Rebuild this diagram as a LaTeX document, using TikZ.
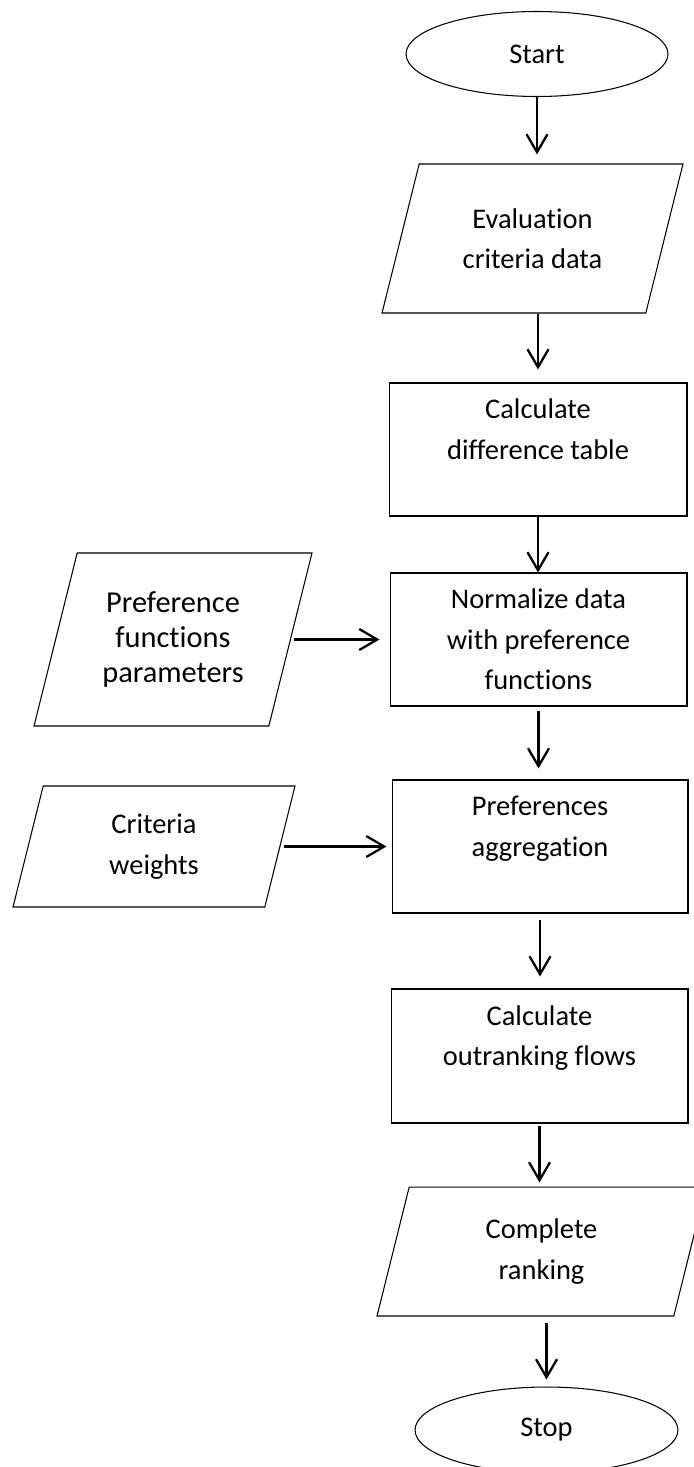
\documentclass[tikz,border=0pt]{standalone}
\usepackage{fontspec}
\setmainfont[Ligatures=CommonOff]{Carlito}
\usetikzlibrary{shapes.geometric,arrows.meta}

% fixed-height text block for the data shapes
\newcommand{\datatext}[2]{\parbox[c][#1][c]{3.6cm}{\centering #2}}

\begin{document}
\begin{tikzpicture}[
				x=0.02cm, y=-0.02cm,
				every node/.style={font=\fontsize{16.2}{23}\selectfont, align=center, inner sep=0pt},
				terminal/.style={draw, line width=0.6pt, ellipse, minimum width=5.24cm, minimum height=1.7cm},
				process/.style={draw, line width=0.6pt, rectangle, minimum width=5.94cm, minimum height=2.66cm},
				data/.style={draw, line width=0.6pt, trapezium, trapezium left angle=76, trapezium right angle=104,
						trapezium stretches body},
				flow/.style={-{Straight Barb[length=0.36cm, width=0.42cm]}, line width=1.3pt},
			]
			\path[use as bounding box] (0,0) rectangle (693,1467);
			% main column
			\node[terminal] (start) at (537,54) {Start};
			\node[data, minimum width=6.02cm] (eval) at (532.5,238.5) {\datatext{2.98cm}{Evaluation\\criteria data}};
			\node[process, minimum width=5.96cm] (calc) at (538,449.5) {Calculate\\difference table\\~};
			\node[process] (norm) at (538.5,639.5) {Normalize data\\with preference\\functions};
			\node[process, minimum width=5.92cm] (aggr) at (540,846.5) {Preferences\\aggregation\\~};
			\node[process, minimum height=2.68cm] (flows) at (539.5,1056) {Calculate\\outranking flows\\~};
			\node[data, minimum width=6.58cm] (rank) at (541.5,1251.5) {\datatext{2.58cm}{Complete\\ranking}};
			\node[terminal, minimum width=5.26cm, minimum height=1.72cm] (stop) at (546.5,1430) {Stop};
			% inputs on the left
			\node[data, minimum width=5.56cm, font=\fontsize{17.3}{20}\selectfont] (param) at (173,639.5) {\datatext{3.46cm}{Preference\\functions\\parameters}};
			\node[data, minimum width=5.64cm] (weights) at (154,846.5) {\datatext{2.42cm}{Criteria\\weights}};

			\draw[flow, shorten >=0.18cm] (start.south) -- (start.south |- eval.north);
			\draw[flow, shorten >=0.26cm] (eval.south -| calc.north) -- (calc.north);
			\draw[flow] (calc.south) -- (calc.south |- norm.north);
			\draw[flow, shorten <=0.08cm, shorten >=0.22cm] (norm.south) -- (norm.south |- aggr.north);
			\draw[flow, shorten <=0.12cm, shorten >=0.24cm] (aggr.south) -- (aggr.south |- flows.north);
			\draw[flow, shorten <=0.04cm, shorten >=0.08cm] (flows.south) -- (flows.south |- rank.north);
			\draw[flow, shorten <=0.12cm, shorten >=0.14cm] (rank.south -| stop.north) -- (stop.north);
			\draw[flow, shorten <=0.06cm, shorten >=0.2cm] (param.east) -- (param.east -| norm.west);
			\draw[flow, shorten <=0.08cm, shorten >=0.1cm] (weights.east) -- (weights.east -| aggr.west);
		\end{tikzpicture}
\end{document}
